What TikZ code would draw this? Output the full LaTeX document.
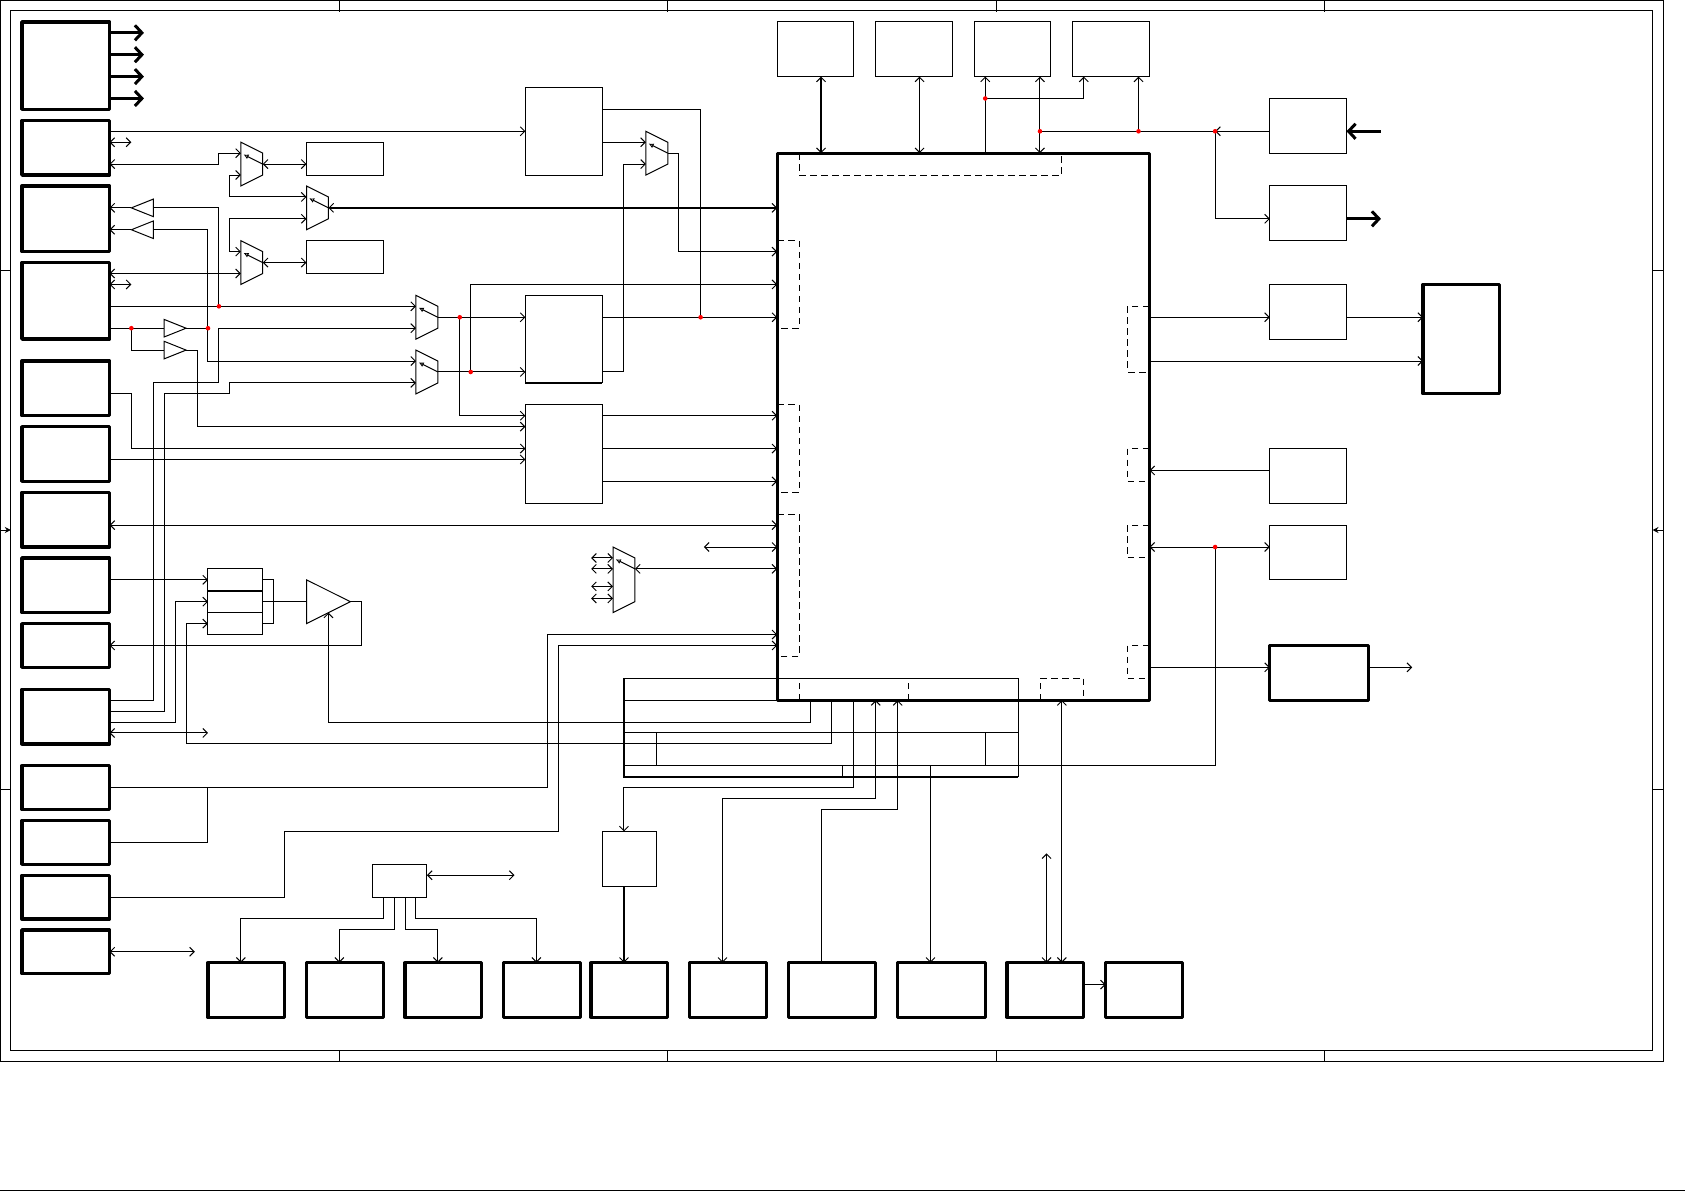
\documentclass[tikz,border=0pt]{standalone}
\usetikzlibrary{arrows.meta}
\newcommand{\blk}[6]{\node[#2,anchor=north west,minimum width={(#5-#3)*10.947pt},minimum height={(#6-#4)*10.94pt}] (#1) at (#3,#4) {};}
\newcommand{\muxq}[3]{\blk{#1}{ghost}{#2}{#3}{#2+2}{#3+4}
 \draw (#1.north west) -- ++(2,1) -- ++(0,2) -- ++(-2,1) -- cycle;
 \draw[muxsel] (#1.east) -- ++(-1.75,-0.875);}
\newcommand{\bufr}[3]{\node[ghost,minimum width=21.9pt,minimum height=17.5pt] (#1) at (#2+1,#3) {};
 \draw (#1.north west) -- (#1.east) -- (#1.south west) -- cycle;}
\newcommand{\bufl}[3]{\node[ghost,minimum width=21.9pt,minimum height=17.5pt] (#1) at (#2+1,#3) {};
 \draw (#1.north east) -- (#1.west) -- (#1.south east) -- cycle;}
\tikzset{
 ghost/.style={inner sep=0pt,outer sep=0pt},
 thinbox/.style={draw,line width=1pt,inner sep=0pt,outer sep=0pt},
 thickbox/.style={draw,line width=3.3pt,inner sep=0pt,outer sep=0pt,line join=round},
 mainbox/.style={draw,line width=3pt,inner sep=0pt,outer sep=0pt,line join=round},
 >={Straight Barb[length=4.5pt,width=9pt]},
 thk/.style={line width=3pt,>={Straight Barb[length=7pt,width=15pt]}},
 med/.style={line width=2pt,>={Straight Barb[length=4.5pt,width=9pt,line width=1pt]}},
 muxsel/.style={-{Latex[open,length=5pt,width=5pt,line width=0.9pt]}},
 dsh/.style={dash pattern=on 6.5pt off 4.5pt,line width=0.9pt},
 dotn/.style={circle,fill=red,inner sep=0pt,outer sep=0pt,minimum size=4.6pt}
}
\begin{document}
\begin{tikzpicture}[x=10.947pt,y=-10.94pt,line width=1pt]
\useasboundingbox (0pt,0pt) rectangle (1685pt,-1191pt);
% sheet frame
\draw (0.5pt,-0.5pt) rectangle (1663.5pt,-1061pt);
\draw (10.8pt,-10.5pt) rectangle (1652.5pt,-1050.5pt);
\foreach \xx in {339.5,667.5,996,1324.5}{
 \draw (\xx pt,-0.5pt) -- (\xx pt,-11.5pt);
 \draw (\xx pt,-1050.5pt) -- (\xx pt,-1061pt);}
\foreach \yy in {270,789.5}{
 \draw (0.5pt,-\yy pt) -- (10.8pt,-\yy pt);
 \draw (1652.5pt,-\yy pt) -- (1663.5pt,-\yy pt);}
\draw[-{Stealth[length=6pt,width=6pt]}] (0.5pt,-530pt) -- (10.8pt,-530pt);
\draw[-{Stealth[length=6pt,width=6pt]}] (1663.5pt,-530pt) -- (1652.5pt,-530pt);
\draw (0pt,-1190pt) -- (1685pt,-1190pt);
% left column
\blk{b1}{thickbox}{2}{2}{10}{10}
\blk{b2}{thickbox}{2}{11}{10}{16}
\blk{b3}{thickbox}{2}{17}{10}{23}
\blk{b4}{thickbox}{2}{24}{10}{31}
\blk{b5}{thickbox}{2}{33}{10}{38}
\blk{b6}{thickbox}{2}{39}{10}{44}
\blk{b7}{thickbox}{2}{45}{10}{50}
\blk{b8}{thickbox}{2}{51}{10}{56}
\blk{b9}{thickbox}{2}{57}{10}{61}
\blk{b10}{thickbox}{2}{63}{10}{68}
\blk{b11}{thickbox}{2}{70}{10}{74}
\blk{b12}{thickbox}{2}{75}{10}{79}
\blk{b13}{thickbox}{2}{80}{10}{84}
\blk{b14}{thickbox}{2}{85}{10}{89}
% bottom row
\blk{bot1}{thickbox}{19}{88}{26}{93}
\blk{bot2}{thickbox}{28}{88}{35}{93}
\blk{bot3}{thickbox}{37}{88}{44}{93}
\blk{bot4}{thickbox}{46}{88}{53}{93}
\blk{bot5}{thickbox}{54}{88}{61}{93}
\blk{bot6}{thickbox}{63}{88}{70}{93}
\blk{bot7}{thickbox}{72}{88}{80}{93}
\blk{bot8}{thickbox}{82}{88}{90}{93}
\blk{bot9}{thickbox}{92}{88}{99}{93}
\blk{bot10}{thickbox}{101}{88}{108}{93}
% main
\blk{main}{mainbox}{71}{14}{105}{64}
% thin boxes
\blk{tbox}{thinbox}{48}{8}{55}{16}
\blk{c}{thinbox}{48}{27}{55}{35}
\blk{d}{thinbox}{48}{37}{55}{46}
\blk{r1}{thinbox}{28}{13}{35}{16}
\blk{r2}{thinbox}{28}{22}{35}{25}
\blk{a1}{thinbox}{71}{2}{78}{7}
\blk{a2}{thinbox}{80}{2}{87}{7}
\blk{a3}{thinbox}{89}{2}{96}{7}
\blk{a4}{thinbox}{98}{2}{105}{7}
\blk{f1}{thinbox}{116}{9}{123}{14}
\blk{f2}{thinbox}{116}{17}{123}{22}
\blk{f3}{thinbox}{116}{26}{123}{31}
\blk{f4}{thinbox}{116}{41}{123}{46}
\blk{f5}{thinbox}{116}{48}{123}{53}
\blk{g}{thickbox}{130}{26}{137}{36}
\blk{h}{mainbox}{116}{59}{125}{64}
\blk{e}{thinbox}{55}{76}{60}{81}
\blk{i}{thinbox}{34}{79}{39}{82}
\blk{reg}{thinbox}{19}{52}{24}{58}
\draw (reg.west|-0,54) [line width=2pt] -- (reg.east|-0,54);
\draw (reg.west|-0,56) -- (reg.east|-0,56);
\draw[line width=2pt] (c.south west) -- (c.south east);
% table behind main block
\blk{tbl}{thinbox}{57}{62}{93}{71}
\draw[line width=2pt] (tbl.north west) -- (tbl.south west) -- (tbl.south east);
\draw (tbl.west|-0,64) -- (main.south west);
\draw (tbl.west|-0,67) -- (tbl.east|-0,67);
\draw (tbl.west|-0,70) -- (tbl.east|-0,70);
\draw (60,67) -- (60,70);
\draw (90,67) -- (90,70);
\draw (77,70) -- (77,71);
% muxes and buffers
\muxq{m1}{22}{13}
\muxq{m2}{28}{17}
\muxq{m3}{22}{22}
\muxq{m4}{38}{27}
\muxq{m5}{38}{32}
\muxq{m6}{59}{12}
\blk{m7}{ghost}{56}{50}{58}{56}
\draw (m7.north west) -- ++(2,1) -- ++(0,4) -- ++(-2,1) -- cycle;
\draw[muxsel] (58,52) -- (56.25,51.125);
\bufl{t1}{12}{19}
\bufl{t2}{12}{21}
\bufr{t3}{15}{30}
\bufr{t4}{15}{32}
\blk{amp}{ghost}{28}{53}{32}{57}
\draw (amp.north west) -- (amp.east) -- (amp.south west) -- cycle;
% junctions
\coordinate (da) at (20,28);
\coordinate (db) at (19,30);
\coordinate (dc) at (12,30);
\coordinate (dd) at (42,29);
\coordinate (de) at (43,34);
\coordinate (df) at (64,29);
\coordinate (dg) at (90,9);
\coordinate (dh) at (95,12);
\coordinate (di) at (111,12);
\coordinate (dj) at (104,12);
\coordinate (dk) at (111,50);
% connectors: left
\foreach \yy in {3,5,7,9}{\draw[thk,->] (b1.east|-0,\yy) -- (13.15,\yy);}
\draw[->] (b2.east|-0,12) -- (tbox.west|-0,12);
\draw[<->] (b2.east|-0,13) -- (12,13);
\draw[<->] (b2.east|-0,15) -- (20,15) -- (20,14) -- (m1.west|-0,14);
\draw[<->] (m1.west|-0,16) -- (21,16) -- (21,18) -- (m2.west|-0,18);
\draw[<->] (m3.west|-0,23) -- (21,23) -- (21,20) -- (m2.west|-0,20);
\draw[<->] (b4.east|-0,25) -- (m3.west|-0,25);
\draw[<->] (b4.east|-0,26) -- (12,26);
\draw[<->] (m1.east) -- (r1.west|-0,15);
\draw[<->] (m3.east) -- (r2.west|-0,24);
\draw[med,<->] (m2.east) -- (main.west|-0,19);
\draw[->] (t1.west) -- (b3.east|-0,19);
\draw[->] (t2.west) -- (b3.east|-0,21);
\draw (t1.east) -- (20,19) -- (da);
\draw[->] (t2.east) -- (19,21) -- (19,33) -- (m5.west|-0,33);
\draw[->] (b4.east|-0,28) -- (m4.west|-0,28);
\draw (b4.east|-0,30) -- (t3.west);
\draw (t3.east) -- (db);
\draw (dc) -- (12,32) -- (t4.west);
\draw[->] (t4.east) -- (18,32) -- (18,39) -- (d.west|-0,39);
\draw[->] (b10.east|-0,64) -- (14,64) -- (14,35) -- (20,35) -- (20,30) -- (m4.west|-0,30);
\draw[->] (b10.east|-0,65) -- (15,65) -- (15,36) -- (21,36) -- (21,35) -- (m5.west|-0,35);
\draw[->] (b10.east|-0,66) -- (16,66) -- (16,55) -- (reg.west|-0,55);
\draw[<->] (b10.east|-0,67) -- (19,67);
\draw[->] (b8.east|-0,53) -- (reg.west|-0,53);
\draw[<-] (reg.west|-0,57) -- (17,57) -- (17,68) -- (76,68) -- (main.south-|76,0);
\draw[->] (main.south-|74,0) -- (74,66) -- (30,66) -- (amp.south|-0,56);
\draw (reg.east|-0,53) -- (25,53) -- (25,57) -- (reg.east|-0,57);
\draw (reg.east|-0,55) -- (amp.west);
\draw[->] (amp.east) -- (33,55) -- (33,59) -- (b9.east|-0,59);
\draw[<->] (b7.east|-0,48) -- (main.west|-0,48);
\draw[->] (b5.east|-0,36) -- (12,36) -- (12,41) -- (d.west|-0,41);
\draw[->] (b6.east|-0,42) -- (d.west|-0,42);
% connectors: centre
\draw[->] (m4.east) -- (c.west|-0,29);
\draw[->] (m5.east) -- (c.west|-0,34);
\draw[->] (dd) -- (42,38) -- (d.west|-0,38);
\draw[->] (de) -- (43,26) -- (main.west|-0,26);
\draw[->] (c.east|-0,29) -- (main.west|-0,29);
\draw (df) -- (64,10) -- (tbox.east|-0,10);
\draw[->] (tbox.east|-0,13) -- (m6.west|-0,13);
\draw[->] (c.east|-0,34) -- (57,34) -- (57,15) -- (m6.west|-0,15);
\draw[->] (m6.east) -- (62,14) -- (62,23) -- (main.west|-0,23);
\draw[->] (d.east|-0,38) -- (main.west|-0,38);
\draw[->] (d.east|-0,41) -- (main.west|-0,41);
\draw[->] (d.east|-0,44) -- (main.west|-0,44);
\draw[<->] (64.3,50) -- (main.west|-0,50);
\draw[<->] (58,52) -- (main.west|-0,52);
\foreach \yy in {51,52,53.6,54.7}{\draw[<->] (54,\yy) -- (m7.west|-0,\yy);}
\draw[->] (b11.east|-0,72) -- (50,72) -- (50,58) -- (main.west|-0,58);
\draw (b12.east|-0,77) -- (19,77) -- (19,72);
\draw[->] (b13.east|-0,82) -- (26,82) -- (26,76) -- (51,76) -- (51,59) -- (main.west|-0,59);
\draw[<->] (b14.east|-0,87) -- (17.8,87);
% connectors: top
\draw[med,<->] (a1.south-|75,0) -- (main.north-|75,0);
\draw[<->] (a2.south-|84,0) -- (main.north-|84,0);
\draw[->] (main.north-|90,0) -- (a3.south-|90,0);
\draw[->] (dg) -- (99,9) -- (a4.south-|99,0);
\draw[<->] (a3.south-|95,0) -- (main.north-|95,0);
\draw[->] (f1.west|-0,12) -- (di);
\draw (di) -- (dh);
\draw[->] (dj) -- (a4.south-|104,0);
\draw[->] (di) -- (111,20) -- (f2.west|-0,20);
\draw[thk,->] (126.15,12) -- (f1.east|-0,12);
\draw[thk,->] (f2.east|-0,20) -- (126.15,20);
% connectors: right
\draw[->] (main.east|-0,29) -- (f3.west|-0,29);
\draw[->] (f3.east|-0,29) -- (g.west|-0,29);
\draw[->] (main.east|-0,33) -- (g.west|-0,33);
\draw[->] (f4.west|-0,43) -- (main.east|-0,43);
\draw[<->] (main.east|-0,50) -- (f5.west|-0,50);
\draw[->] (main.east|-0,61) -- (h.west|-0,61);
\draw[->] (h.east|-0,61) -- (129,61);
\draw[->] (dk) -- (111,70) -- (85,70) -- (bot8.north-|85,0);
% connectors: bottom
\draw[->] (main.south-|78,0) -- (78,72) -- (57,72) -- (e.north-|57,0);
\draw[med,->] (e.south-|57,0) -- (bot5.north-|57,0);
\draw[<->] (main.south-|80,0) -- (80,73) -- (66,73) -- (bot6.north-|66,0);
\draw[->] (bot7.north-|75,0) -- (75,74) -- (82,74) -- (main.south-|82,0);
\draw[<->] (main.south-|97,0) -- (bot9.north-|97,0);
\draw[<->] (95.6,78) -- (bot9.north-|95.6,0);
\draw[->] (bot9.east|-0,90) -- (bot10.west|-0,90);
\draw[<->] (i.east|-0,80) -- (47,80);
\draw[->] (i.south-|35,0) -- (35,84) -- (22,84) -- (bot1.north-|22,0);
\draw[->] (i.south-|36,0) -- (36,85) -- (31,85) -- (bot2.north-|31,0);
\draw[->] (i.south-|37,0) -- (37,85) -- (40,85) -- (bot3.north-|40,0);
\draw[->] (i.south-|38,0) -- (38,84) -- (49,84) -- (bot4.north-|49,0);
% dashed port groups
\draw[dsh] (71,22) -- (73,22) -- (73,30) -- (71,30);
\draw[dsh] (71,37) -- (73,37) -- (73,45) -- (71,45);
\draw[dsh] (71,47) -- (73,47) -- (73,60) -- (71,60);
\draw[dsh] (73,14) -- (73,16) -- (97,16) -- (97,14);
\draw[dsh] (73,64) -- (73,62);
\draw[dsh] (83,64) -- (83,62);
\draw[dsh] (95,64) -- (95,62) -- (99,62) -- (99,64);
\draw[dsh] (105,28) -- (103,28) -- (103,34) -- (105,34);
\draw[dsh] (105,41) -- (103,41) -- (103,44) -- (105,44);
\draw[dsh] (105,48) -- (103,48) -- (103,51) -- (105,51);
\draw[dsh] (105,59) -- (103,59) -- (103,62) -- (105,62);
% junction dots
\foreach \n in {da,db,dc,dd,de,df,dg,dh,di,dj,dk}{\node[dotn] (\n n) at (\n) {};}
\end{tikzpicture}
\end{document}
